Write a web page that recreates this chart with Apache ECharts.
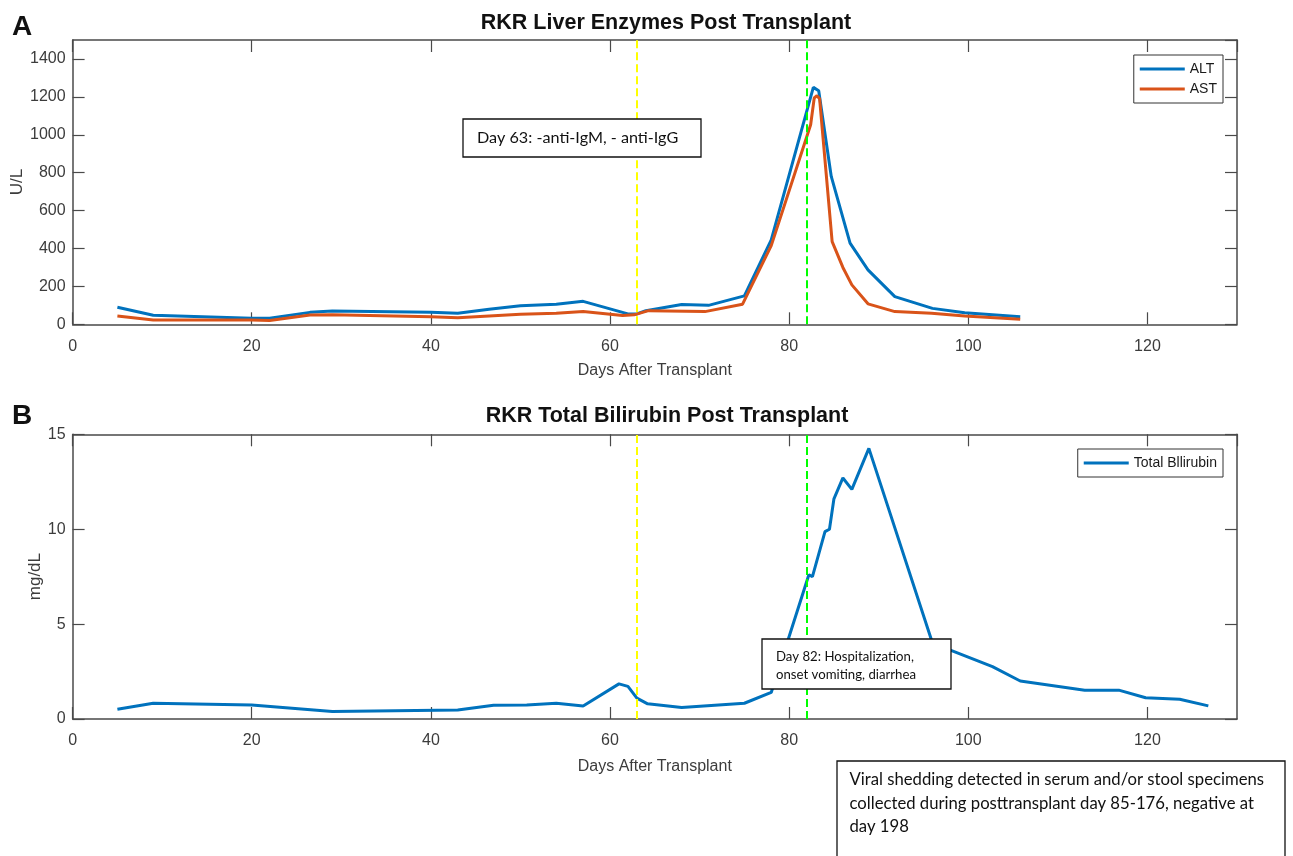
<!DOCTYPE html>
<html>
<head>
<meta charset="utf-8">
<script src="https://cdn.jsdelivr.net/npm/echarts@6/dist/echarts.min.js"></script>
<style>
html,body{margin:0;padding:0;background:#fff;}
#c{width:1293px;height:856px;}
</style>
</head>
<body>
<div id="c"></div>
<script>
// ---- Data ----
const altDays = [5, 9, 20, 22, 26.5, 29, 40, 43, 46.5, 50, 54, 57, 62, 63, 64, 68, 71, 75, 78, 82.7, 83.3, 84.7, 86.8, 88.8, 91.8, 96, 99.6, 105.8];
const altValues = [90, 48, 32, 32, 63, 70, 63, 58, 79, 98, 106, 121, 55, 55, 72, 105, 100, 150, 445, 1250, 1232, 780, 428, 287, 146, 84, 61, 40];

const astDays = [5, 9, 20, 22, 26.5, 29, 40, 43, 50, 54, 57, 61.4, 62.7, 64.3, 70.6, 74.8, 78, 82, 82.4, 82.8, 83.1, 83.4, 84.8, 86, 87, 88.8, 91.8, 95.9, 99.6, 105.8];
const astValues = [44, 23, 23, 20, 49, 51, 40, 35, 53, 58, 67, 46, 50, 72, 67, 106, 415, 995, 1053, 1194, 1206, 1190, 436, 300, 208, 108, 67, 58, 44, 26];

const biliDays = [5, 9, 20, 29, 43, 47, 50.7, 54, 57, 61, 62, 63, 64.2, 68, 75, 78, 82.2, 82.6, 84, 84.5, 85, 86, 87, 88.9, 96, 102.7, 105.8, 113, 116.8, 119.8, 123.6, 126.8];
const biliValues = [0.51, 0.83, 0.74, 0.39, 0.47, 0.73, 0.74, 0.83, 0.69, 1.85, 1.72, 1.1, 0.8, 0.61, 0.83, 1.4, 7.6, 7.5, 9.87, 10.0, 11.6, 12.7, 12.1, 14.26, 4.0, 2.76, 2.0, 1.52, 1.52, 1.12, 1.04, 0.69];

const eventDays = [63, 82];
const eventColors = ['#FFFF00', '#00FF00'];

const xTicks = {min: 0, max: 130, interval: 20};
const yTicksA = {min: 0, max: 1500, interval: 200};
const yTicksB = {min: 0, max: 15, interval: 5};

const titles = ['RKR Liver Enzymes Post Transplant', 'RKR Total Bilirubin Post Transplant'];
const xName = 'Days After Transplant';
const yNames = ['U/L', 'mg/dL'];
const seriesNames = ['ALT', 'AST', 'Total Bllirubin'];
const note1 = 'Day 63: -anti-IgM, - anti-IgG';
const note2 = ['Day 82: Hospitalization,', 'onset vomiting, diarrhea'];
const note3 = ['Viral shedding detected in serum and/or stool specimens', 'collected during posttransplant day 85-176, negative at', 'day 198'];

// ---- Styling ----
const axisColor = '#4a4a4a';
const labelColor = '#3c3c3c';
const sansFont = '"Liberation Sans", Arial, sans-serif';
const noteFont = 'Lato, "Open Sans", sans-serif';

function zip(a, b) { return a.map((d, i) => [d, b[i]]); }
const plain = v => String(v);

function mainX(grid, withName, gap) {
  return {
    gridIndex: grid, type: 'value', position: 'bottom',
    min: xTicks.min, max: xTicks.max, interval: xTicks.interval,
    name: withName ? xName : '', nameLocation: 'middle', nameGap: gap,
    nameTextStyle: {fontSize: 16, color: labelColor, fontFamily: sansFont},
    axisLine: {show: true, onZero: false, lineStyle: {color: axisColor, width: 1.5}},
    axisTick: {show: true, inside: true, length: 12, lineStyle: {color: axisColor, width: 1.2}},
    axisLabel: {fontSize: 16, color: labelColor, margin: 14, showMaxLabel: false, fontFamily: sansFont, formatter: plain},
    splitLine: {show: false}
  };
}
function boxX(grid) {
  return {
    gridIndex: grid, type: 'value', position: 'top',
    min: xTicks.min, max: xTicks.max, interval: xTicks.interval,
    axisLine: {show: true, onZero: false, lineStyle: {color: axisColor, width: 1.5}},
    axisTick: {show: true, inside: true, length: 12, lineStyle: {color: axisColor, width: 1.2}},
    axisLabel: {show: false}, splitLine: {show: false}
  };
}
function mainY(grid, t) {
  return {
    gridIndex: grid, type: 'value', position: 'left',
    min: t.min, max: t.max, interval: t.interval,
    axisLine: {show: true, onZero: false, lineStyle: {color: axisColor, width: 1.5}},
    axisTick: {show: true, inside: true, length: 12, lineStyle: {color: axisColor, width: 1.2}},
    axisLabel: {fontSize: 16, color: labelColor, margin: 7, showMaxLabel: t.max % t.interval === 0, fontFamily: sansFont, formatter: plain},
    splitLine: {show: false}
  };
}
function boxY(grid, t) {
  return {
    gridIndex: grid, type: 'value', position: 'right',
    min: t.min, max: t.max, interval: t.interval,
    axisLine: {show: true, onZero: false, lineStyle: {color: axisColor, width: 1.5}},
    axisTick: {show: true, inside: true, length: 12, lineStyle: {color: axisColor, width: 1.2}},
    axisLabel: {show: false}, splitLine: {show: false}
  };
}

const eventMarks = {
  silent: true, symbol: ['none', 'none'], animation: false,
  label: {show: false},
  lineStyle: {type: [8, 4], width: 2},
  data: eventDays.map((d, i) => ({xAxis: d, lineStyle: {color: eventColors[i], type: [8, 4], width: 2}}))
};

function lineSeries(name, xi, yi, data, color, marks) {
  const s = {
    name: name, type: 'line', xAxisIndex: xi, yAxisIndex: yi,
    data: data, symbol: 'none', showSymbol: false,
    lineStyle: {color: color, width: 3}, itemStyle: {color: color},
    emphasis: {disabled: true}, animation: false, z: 2
  };
  if (marks) s.markLine = marks;
  return s;
}

function legendBox(names, top) {
  return {
    data: names.map(n => ({name: n, icon: 'rect'})), orient: 'vertical', right: 70, top: top,
    itemWidth: 45, itemHeight: 3, itemGap: 6,
    padding: [7, 6, 7, 6], borderColor: '#333', borderWidth: 1, backgroundColor: '#fff',
    textStyle: {fontSize: 14, color: '#1a1a1a', fontFamily: sansFont, lineHeight: 14},
    selectedMode: false
  };
}

function rect(x, y, w, h) {
  return {type: 'rect', shape: {x: x, y: y, width: w, height: h}, style: {fill: '#fff', stroke: '#111', lineWidth: 1.3}, z: 100, silent: true};
}
function txt(s, x, y, font, align, fill) {
  return {type: 'text', x: x, y: y, style: {text: s, font: font, fill: fill || '#111', align: align || 'left', verticalAlign: 'middle'}, z: 101, silent: true};
}
function vtxt(s, x, y, font) {
  const t = txt(s, x, y, font, 'center', labelColor);
  t.rotation = Math.PI / 2;
  return t;
}

const graphics = [
  txt('A', 12, 27, 'bold 28px ' + sansFont),
  txt('B', 12, 416, 'bold 28px ' + sansFont),
  txt(titles[0], 666, 23.5, 'bold 21.5px ' + sansFont, 'center'),
  txt(titles[1], 667, 416.5, 'bold 21.5px ' + sansFont, 'center'),
  vtxt(yNames[0], 17, 182, '17px ' + sansFont),
  vtxt(yNames[1], 35, 576.6, '17px ' + sansFont),
  rect(463, 119, 238, 38),
  txt(note1, 477, 138, '16.2px ' + noteFont),
  rect(762, 639, 189, 50),
  txt(note2[0], 776, 656.5, '13.2px ' + noteFont),
  txt(note2[1], 776, 675, '13.2px ' + noteFont),
  rect(837, 761, 448, 120),
  txt(note3[0], 849.5, 780, '16.7px ' + noteFont),
  txt(note3[1], 849.5, 804, '16.7px ' + noteFont),
  txt(note3[2], 849.5, 827, '16.7px ' + noteFont)
];

const option = {
  backgroundColor: '#fff',
  animation: false,
  grid: [
    {left: 72.6, top: 40, width: 1164.4, height: 284.3, outerBoundsMode: 'none'},
    {left: 72.6, top: 434.3, width: 1164.4, height: 284.7, outerBoundsMode: 'none'}
  ],
  xAxis: [mainX(0, true, 38), boxX(0), mainX(1, true, 40), boxX(1)],
  yAxis: [mainY(0, yTicksA), boxY(0, yTicksA), mainY(1, yTicksB), boxY(1, yTicksB)],
  legend: [legendBox([seriesNames[0], seriesNames[1]], 55), legendBox([seriesNames[2]], 449)],
  series: [
    lineSeries(seriesNames[0], 0, 0, zip(altDays, altValues), '#0072BD', eventMarks),
    lineSeries(seriesNames[1], 0, 0, zip(astDays, astValues), '#D95319'),
    lineSeries(seriesNames[2], 2, 2, zip(biliDays, biliValues), '#0072BD', eventMarks)
  ],
  graphic: graphics
};

const chart = echarts.init(document.getElementById('c'));
chart.setOption(option);
</script>
</body>
</html>
